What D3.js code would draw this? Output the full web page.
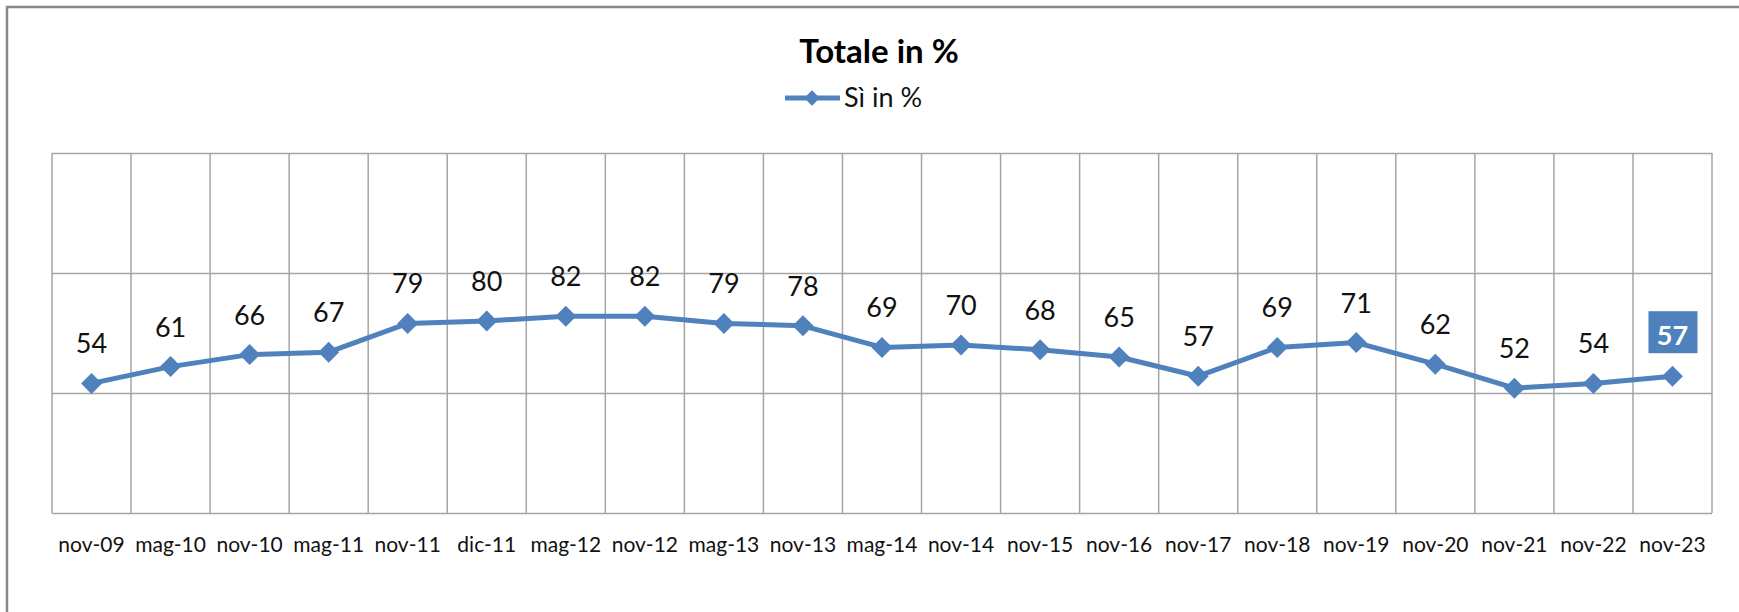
<!DOCTYPE html>
<html>
<head>
<meta charset="utf-8">
<script src="https://cdn.jsdelivr.net/npm/d3@7.9.0/dist/d3.min.js"></script>
<style>
  html, body { margin: 0; padding: 0; background: #fff; }
  svg { display: block; font-family: Lato, "Open Sans", sans-serif; }
</style>
</head>
<body>
<div id="chart"></div>
<script>
// data
const categories = ['nov-09', 'mag-10', 'nov-10', 'mag-11', 'nov-11', 'dic-11', 'mag-12', 'nov-12',
  'mag-13', 'nov-13', 'mag-14', 'nov-14', 'nov-15', 'nov-16', 'nov-17', 'nov-18', 'nov-19',
  'nov-20', 'nov-21', 'nov-22', 'nov-23'];
const siValues = [54, 61, 66, 67, 79, 80, 82, 82, 79, 78, 69, 70, 68, 65, 57, 69, 71, 62, 52, 54, 57];
const yTicks = [0, 50, 100, 150];
const title = 'Totale in %';
const seriesName = 'Sì in %';

const width = 1739;
const height = 612;
const margin = { top: 153, right: 27, bottom: 99, left: 52 };
const blue = '#4F81BD';
const gridColor = '#A5A5A5';

const data = categories.map((c, i) => ({ cat: c, value: siValues[i] }));

const svg = d3.select('#chart')
  .append('svg')
  .attr('width', width)
  .attr('height', height);

// outer frame (right and bottom edges fall outside the picture)
svg.append('rect')
  .attr('x', 7).attr('y', 7)
  .attr('width', width + 20).attr('height', height + 20)
  .attr('fill', '#fff')
  .attr('stroke', '#888')
  .attr('stroke-width', 2.5);

const xScale = d3.scaleBand()
  .domain(categories)
  .range([margin.left, width - margin.right])
  .padding(0);

const yScale = d3.scaleLinear()
  .domain([0, 150])
  .range([height - margin.bottom, margin.top]);

const cx = (d) => xScale(d) + xScale.bandwidth() / 2;

// horizontal gridlines
svg.append('g')
  .attr('class', 'gridlines')
  .attr('transform', `translate(${margin.left}, 0)`)
  .call(d3.axisLeft(yScale).tickValues(yTicks).tickFormat('')
    .tickSize(-(width - margin.left - margin.right)))
  .call((g) => g.select('.domain').remove())
  .call((g) => g.selectAll('line').attr('stroke', gridColor).attr('stroke-width', 1.5));

// vertical gridlines at category edges
const edges = categories.map((c) => xScale(c)).concat([xScale.range()[1]]);
svg.append('g')
  .selectAll('line')
  .data(edges)
  .join('line')
  .attr('x1', (d) => d).attr('x2', (d) => d)
  .attr('y1', yScale(150)).attr('y2', yScale(0))
  .attr('stroke', gridColor)
  .attr('stroke-width', 1.5);

// x axis labels
svg.append('g')
  .attr('transform', `translate(0, ${yScale(0)})`)
  .call(d3.axisBottom(xScale).tickSize(0).tickPadding(0))
  .call((g) => g.select('.domain').remove())
  .call((g) => g.selectAll('text')
    .attr('dy', null)
    .attr('y', 39)
    .attr('font-family', 'Lato, sans-serif')
    .attr('font-size', 21)
    .attr('fill', '#111'));

// the line
const line = d3.line()
  .x((d) => cx(d.cat))
  .y((d) => yScale(d.value));

svg.append('path')
  .datum(data)
  .attr('fill', 'none')
  .attr('stroke', blue)
  .attr('stroke-width', 5)
  .attr('stroke-linejoin', 'round')
  .attr('d', line);

const diamond = d3.symbol().type(d3.symbolDiamond2).size(280);

svg.append('g')
  .selectAll('path')
  .data(data)
  .join('path')
  .attr('transform', (d) => `translate(${cx(d.cat)}, ${yScale(d.value)})`)
  .attr('d', diamond)
  .attr('fill', blue);

// value labels
const last = data.length - 1;
svg.append('g')
  .selectAll('text')
  .data(data.slice(0, last))
  .join('text')
  .attr('x', (d) => cx(d.cat))
  .attr('y', (d) => yScale(d.value) - 30)
  .attr('text-anchor', 'middle')
  .attr('font-size', 27)
  .attr('fill', '#111')
  .text((d) => d.value);

// highlighted last value
const lastD = data[last];
const lg = svg.append('g')
  .attr('transform', `translate(${cx(lastD.cat)}, ${yScale(lastD.value) - 31})`);
lg.append('rect')
  .attr('x', -24).attr('y', -34)
  .attr('width', 49).attr('height', 42)
  .attr('fill', blue);
lg.append('text')
  .attr('text-anchor', 'middle')
  .attr('font-size', 27)
  .attr('font-weight', 'bold')
  .attr('fill', '#fff')
  .text(lastD.value);

// title
svg.append('text')
  .attr('x', 879)
  .attr('y', 63)
  .attr('text-anchor', 'middle')
  .attr('font-size', 33)
  .attr('font-weight', 'bold')
  .attr('fill', '#000')
  .text(title);

// legend
const legend = svg.append('g').attr('transform', 'translate(785, 98)');
legend.append('line')
  .attr('x1', 0).attr('x2', 55)
  .attr('y1', 0).attr('y2', 0)
  .attr('stroke', blue)
  .attr('stroke-width', 5);
legend.append('path')
  .attr('transform', 'translate(27, 0)')
  .attr('d', d3.symbol().type(d3.symbolDiamond2).size(150))
  .attr('fill', blue);
legend.append('text')
  .attr('x', 59)
  .attr('y', 9)
  .attr('font-size', 27)
  .attr('fill', '#111')
  .text(seriesName);
</script>
</body>
</html>
